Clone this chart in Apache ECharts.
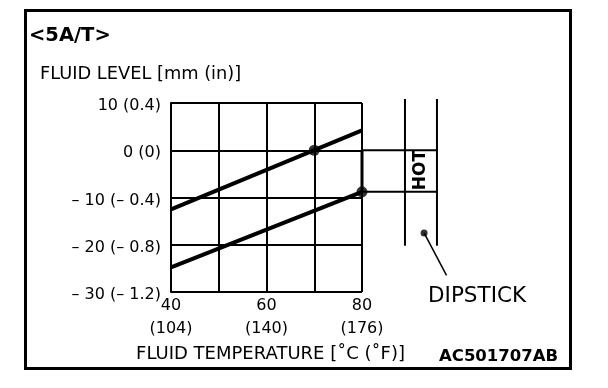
<!DOCTYPE html>
<html>
<head>
<meta charset="utf-8">
<script src="https://cdn.jsdelivr.net/npm/echarts@6/dist/echarts.min.js"></script>
<style>html,body{margin:0;padding:0;background:#fff;}#c{width:608px;height:388px;}</style>
</head>
<body>
<div id="c"></div>
<script>
// ---- data ----
const xTicks = [40, 50, 60, 70, 80];
const xTickLabels = {40: '40\n(104)', 60: '60\n(140)', 80: '80\n(176)'};
const yTickLabels = {10: '10 (0.4)', 0: '0 (0)', '-10': '– 10 (– 0.4)', '-20': '– 20 (– 0.8)', '-30': '– 30 (– 1.2)'};
const upperLine = [[40, -12.5], [80, 4.2]];
const lowerLine = [[40, -24.8], [80, -8.8]];
const checkPoints = [[70, 0], [80, -8.8]];
const hotTop = [[80, 0], [95.7, 0]];
const hotBottom = [[80, -8.8], [95.7, -8.8]];
const hotEdge = [[80, 0], [80, -8.8]];
const dipLeft = [[89, 10.85], [89, -20.2]];
const dipRight = [[95.7, 10.85], [95.7, -20.2]];
const pointerDot = [[93, -17.5]];
const pointerLeader = [[93, -17.5], [97.7, -26.5]];

const F = 'DejaVu Sans';
const chart = echarts.init(document.getElementById('c'), null, {renderer: 'canvas'});

// second (hidden) coordinate system with the same scale, extended to the dipstick area
function seg(data, w) {
  return {type: 'line', data: data, xAxisIndex: 1, yAxisIndex: 1, symbol: 'none', silent: true,
    lineStyle: {color: '#000', width: w}, z: 3};
}

chart.setOption({
  animation: false,
  backgroundColor: '#fff',
  grid: [
    {left: 171, top: 103, width: 191, height: 189, containLabel: false},
    {left: 171, top: 103 - 189 / 4, width: 191 * 60 / 40, height: 189 * 60 / 40, containLabel: false}
  ],
  xAxis: [{
    type: 'value', min: 40, max: 80, interval: 10, gridIndex: 0,
    axisLine: {show: true, lineStyle: {color: '#000', width: 2}},
    axisTick: {show: false},
    splitLine: {show: true, lineStyle: {color: '#000', width: 2}},
    axisLabel: {
      color: '#000', fontFamily: F, fontSize: 16, lineHeight: 23, margin: 2,
      formatter: v => xTickLabels[v] || ''
    },
    name: 'FLUID TEMPERATURE [˚C (˚F)]', nameLocation: 'middle', nameGap: 53,
    nameTextStyle: {color: '#000', fontFamily: F, fontSize: 18, padding: [0, 0, 0, 8]}
  }, {
    type: 'value', min: 40, max: 100, gridIndex: 1, show: false
  }],
  yAxis: [{
    type: 'value', min: -30, max: 10, interval: 10, gridIndex: 0,
    axisLine: {show: true, lineStyle: {color: '#000', width: 2}},
    axisTick: {show: false},
    splitLine: {show: true, lineStyle: {color: '#000', width: 2}},
    axisLabel: {
      color: '#000', fontFamily: F, fontSize: 16, margin: 10, verticalAlign: 'top', lineHeight: 6,
      formatter: v => yTickLabels[v] || ''
    }
  }, {
    type: 'value', min: -40, max: 20, gridIndex: 1, show: false
  }],
  series: [
    {type: 'line', data: upperLine, symbol: 'none', lineStyle: {color: '#000', width: 4}, z: 4},
    {type: 'line', data: lowerLine, symbol: 'none', lineStyle: {color: '#000', width: 4}, z: 4},
    {type: 'scatter', data: checkPoints, symbolSize: 11, itemStyle: {color: '#000'}, clip: false, z: 5},
    seg(hotTop, 2), seg(hotBottom, 2), seg(hotEdge, 3),
    seg(dipLeft, 2), seg(dipRight, 2),
    {type: 'scatter', data: pointerDot, xAxisIndex: 1, yAxisIndex: 1, symbolSize: 7, itemStyle: {color: '#000'}, z: 5},
    seg(pointerLeader, 1.5)
  ],
  graphic: [
    {type: 'rect', shape: {x: 25.5, y: 10.5, width: 545, height: 358}, style: {fill: 'none', stroke: '#000', lineWidth: 3}, z: 10},
    {type: 'text', x: 29, y: 36, style: {text: '<5A/T>', fontFamily: F, fontWeight: 'bold', fontSize: 19.5, fill: '#000', textVerticalAlign: 'middle'}},
    {type: 'text', x: 40, y: 74, style: {text: 'FLUID LEVEL [mm (in)]', fontFamily: F, fontSize: 17.8, fill: '#000', textVerticalAlign: 'middle'}},
    {type: 'text', x: 421, y: 170, rotation: Math.PI / 2, style: {text: 'HOT', fontFamily: F, fontWeight: 'bold', fontSize: 17, fill: '#000', textAlign: 'center', textVerticalAlign: 'middle'}},
    {type: 'text', x: 428, y: 296, style: {text: 'DIPSTICK', fontFamily: F, fontSize: 21.5, fill: '#000', textVerticalAlign: 'middle'}},
    {type: 'text', x: 439, y: 357, style: {text: 'AC501707AB', fontFamily: F, fontWeight: 'bold', fontSize: 16.5, fill: '#000', textVerticalAlign: 'middle'}}
  ]
});
</script>
</body>
</html>
